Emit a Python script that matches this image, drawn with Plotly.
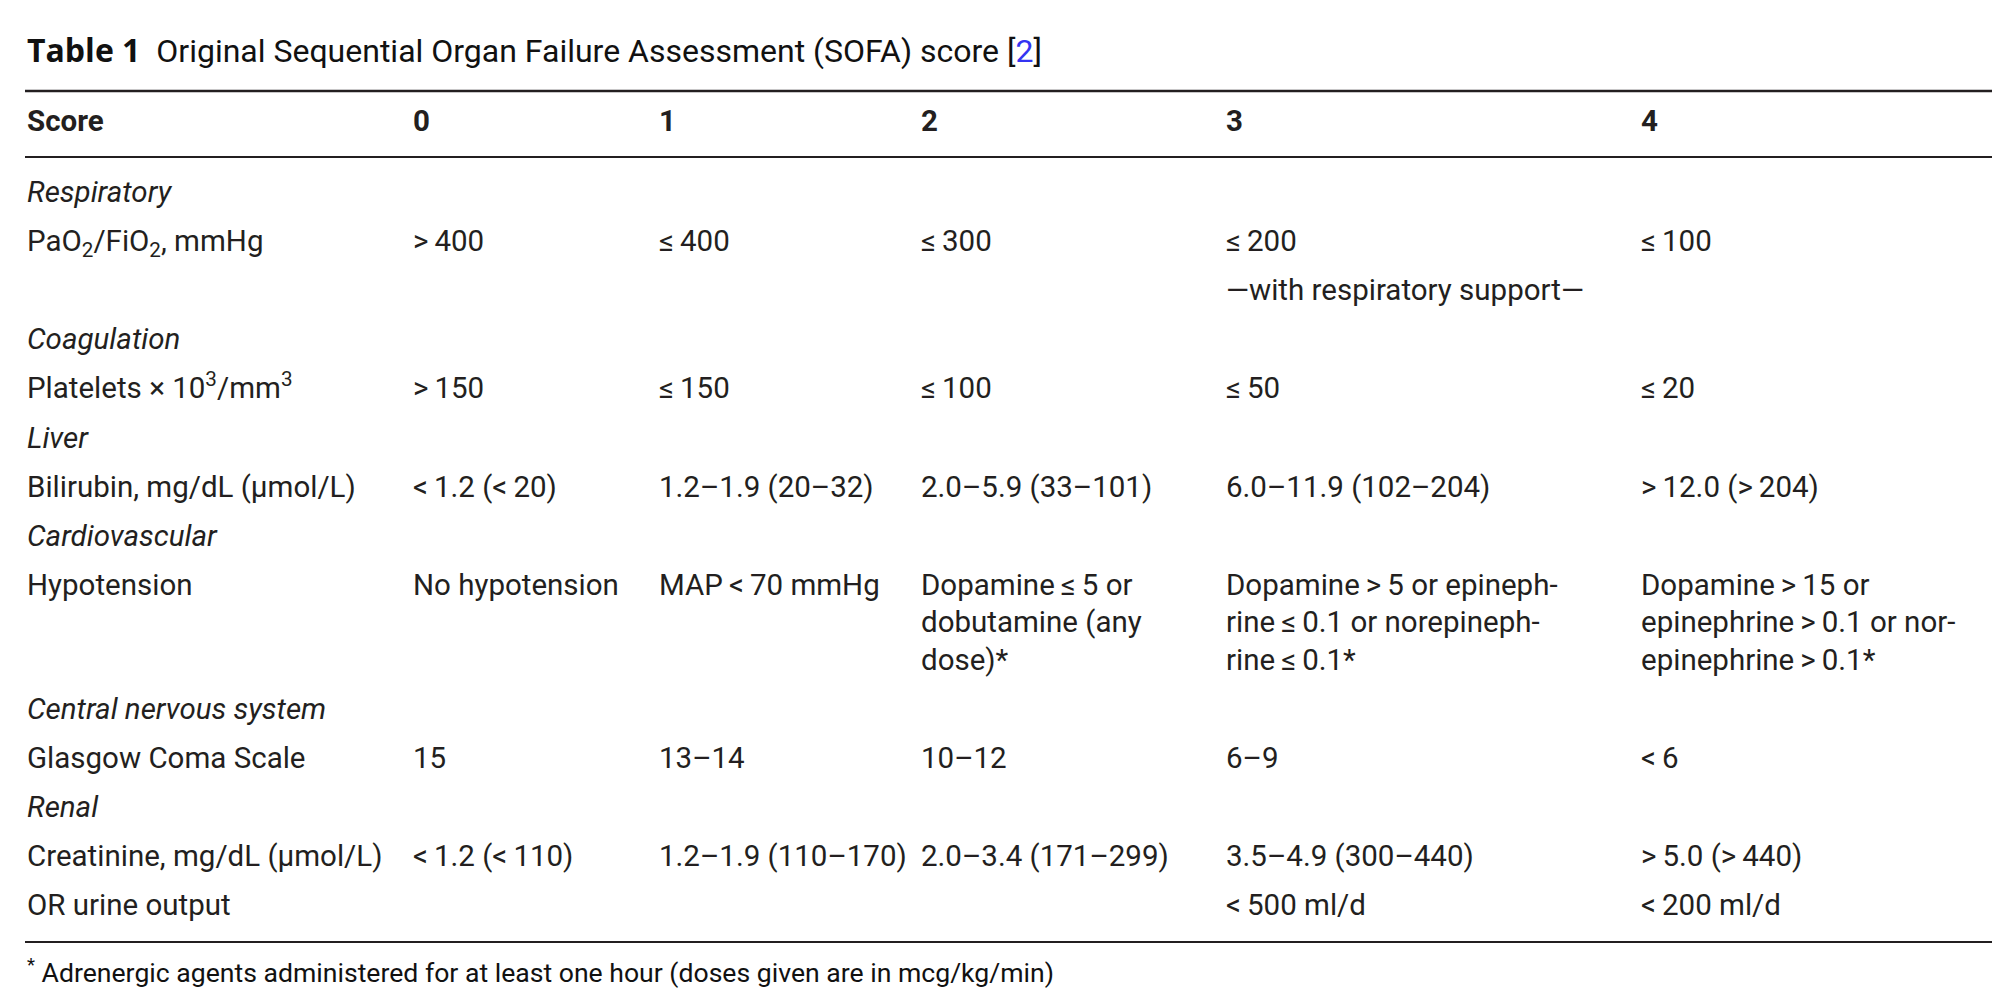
import plotly.graph_objects as go

# SOFA score table (Table 1)
score_labels = ["Score", "0", "1", "2", "3", "4"]

systems = ["Respiratory", "Coagulation", "Liver", "Cardiovascular",
           "Central nervous system", "Renal"]

params = [
    ["PaO<sub>2</sub>/FiO<sub>2</sub>, mmHg", ""],
    ["Platelets × 10<sup>3</sup>/mm<sup>3</sup>"],
    ["Bilirubin, mg/dL (µmol/L)"],
    ["Hypotension"],
    ["Glasgow Coma Scale"],
    ["Creatinine, mg/dL (µmol/L)", "OR urine output"],
]

T = "\u2009"  # thin space around relation signs

score_0 = [[">" + T + "400", ""], [">" + T + "150"], ["<" + T + "1.2 (<" + T + "20)"],
           ["No hypotension"], ["15"], ["<" + T + "1.2 (<" + T + "110)", ""]]
score_1 = [["≤" + T + "400", ""], ["≤" + T + "150"], ["1.2–1.9 (20–32)"],
           ["MAP" + T + "<" + T + "70 mmHg"], ["13–14"], ["1.2–1.9 (110–170)", ""]]
score_2 = [["≤" + T + "300", ""], ["≤" + T + "100"], ["2.0–5.9 (33–101)"],
           ["Dopamine" + T + "≤" + T + "5 or<br>dobutamine (any<br>dose)*"], ["10–12"],
           ["2.0–3.4 (171–299)", ""]]
score_3 = [["≤" + T + "200", "—with respiratory support—"], ["≤" + T + "50"], ["6.0–11.9 (102–204)"],
           ["Dopamine" + T + ">" + T + "5 or epineph-<br>rine" + T + "≤" + T + "0.1 or norepineph-<br>rine" + T + "≤" + T + "0.1*"],
           ["6–9"], ["3.5–4.9 (300–440)", "<" + T + "500 ml/d"]]
score_4 = [["≤" + T + "100", ""], ["≤" + T + "20"], [">" + T + "12.0 (>" + T + "204)"],
           ["Dopamine" + T + ">" + T + "15 or<br>epinephrine" + T + ">" + T + "0.1 or nor-<br>epinephrine" + T + ">" + T + "0.1*"],
           ["<" + T + "6"], [">" + T + "5.0 (>" + T + "440)", "<" + T + "200 ml/d"]]

title_label = "Table 1"
title_text = "Original Sequential Organ Failure Assessment (SOFA) score"
ref_num = "2"
footnote = "Adrenergic agents administered for at least one hour (doses given are in mcg/kg/min)"

# flatten into table columns: an italic row per organ system, then its parameter rows
columns = [[] for _ in range(6)]
for i, system in enumerate(systems):
    columns[0].append("<i>" + system + "</i>")
    for c in range(1, 6):
        columns[c].append("")
    for j, p in enumerate(params[i]):
        columns[0].append(p)
        for c, col in enumerate([score_0, score_1, score_2, score_3, score_4], start=1):
            columns[c].append(col[i][j])

# layout in pixels (axes are set up 1:1 with the page)
W, H = 2000, 988
INK = "#231f20"
FONT = "Roboto, Open Sans, sans-serif"
FS = 29.5
col_w = [386, 246, 262, 305, 415]
col_x = [19]
for w in col_w:
    col_x.append(col_x[-1] + w)
header_base = 123
body_base = 194
row_pitch = 49.1
line_pitch = 37.5

# baseline of every body row, from how many lines its cells need
n_lines = [max(len(columns[c][r].split("<br>")) for c in range(6)) for r in range(len(columns[0]))]
row_base = []
y = body_base
for n in n_lines:
    row_base.append(y)
    y += row_pitch + (n - 1) * line_pitch

fig = go.Figure()

# header
fig.add_trace(go.Scatter(
    x=col_x, y=[header_base - 0.25 * FS] * 6,
    text=["<b>" + s + "</b>" for s in score_labels],
    mode="text", textposition="middle right",
    textfont=dict(family=FONT, size=FS, color=INK),
    hoverinfo="skip", showlegend=False,
))

# body cells, one trace per column
for c in range(6):
    xs, ys, ts = [], [], []
    for r, cell in enumerate(columns[c]):
        for k, line in enumerate(cell.split("<br>")):
            if line == "":
                continue
            xs.append(col_x[c])
            ys.append(row_base[r] + k * line_pitch - 0.25 * FS)
            ts.append(line)
    fig.add_trace(go.Scatter(
        x=xs, y=ys, text=ts,
        mode="text", textposition="middle right",
        textfont=dict(family=FONT, size=FS, color=INK),
        hoverinfo="skip", showlegend=False,
    ))

# horizontal rules
for yy, w in [(83, 2.5), (149, 2), (934, 2)]:
    fig.add_shape(type="line", xref="x", yref="y", x0=17, x1=1984, y0=yy, y1=yy,
                  line=dict(color=INK, width=w))

fig.add_annotation(
    x=17, y=57, xref="x", yref="y", xanchor="left", yanchor="bottom",
    showarrow=False, yshift=-8,
    text="<span style='font-family:Open Sans'><b>" + title_label + "</b></span>  "
         + title_text + " [<span style='color:#3434f2'>" + ref_num + "</span>]",
    font=dict(family=FONT, size=32, color="#111111"),
)
fig.add_annotation(
    x=17, y=970, xref="x", yref="y", xanchor="left", yanchor="bottom",
    showarrow=False, yshift=-12,
    text="<sup>*</sup> " + footnote,
    font=dict(family=FONT, size=26.6, color="#111111"),
)

fig.update_layout(
    width=W, height=H,
    margin=dict(l=0, r=0, t=0, b=0),
    paper_bgcolor="white",
    plot_bgcolor="white",
    xaxis=dict(range=[0, W], visible=False, fixedrange=True),
    yaxis=dict(range=[H, 0], visible=False, fixedrange=True),
)

fig.write_html("out.html")
